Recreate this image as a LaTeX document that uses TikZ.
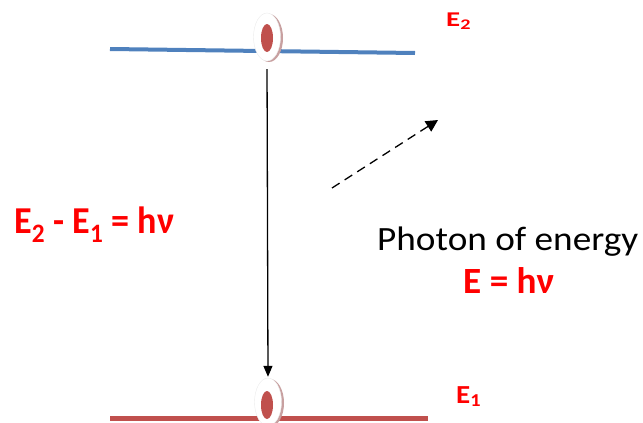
\documentclass[tikz,border=0pt]{standalone}
\usepackage{fontspec}
\usepackage{graphicx}
\setmainfont{Carlito}
\usetikzlibrary{shapes.geometric,arrows.meta}
\definecolor{lvlblue}{RGB}{79,129,189}
\definecolor{lvlred}{RGB}{192,80,77}
\definecolor{txtred}{RGB}{255,0,0}
\definecolor{elshadow}{RGB}{200,160,160}
\newcommand{\wfit}[2]{\resizebox{#1}{\height}{#2}}
\begin{document}
\begin{tikzpicture}[x=1pt,y=1pt,
  elshade/.style={ellipse, fill=elshadow, minimum width=28, minimum height=48, inner sep=0},
  elout/.style={ellipse, fill=white, draw=black!8, minimum width=27, minimum height=48, inner sep=0},
  elin/.style={ellipse, fill=lvlred, minimum width=12, minimum height=28, inner sep=0},
  lbl/.style={anchor=base west, inner sep=0, text=txtred, font=\bfseries}]
\useasboundingbox (0,0) rectangle (643,-423);
% energy levels
\draw[lvlblue, line width=4] (110,-49) coordinate (t1) -- (415,-53) coordinate (t2);
\draw[lvlred, line width=5] (110,-418) coordinate (b1) -- (428,-418) coordinate (b2);
% electrons
\node[elshade] (tsh) at (269,-38) {};
\node[elout] (tout) at (267,-37) {};
\node[elin] (tin) at (267,-38) {};
\node[elshade] (bsh) at (270,-403) {};
\node[elout] (bout) at (268,-402) {};
\node[elin] (bin) at (267,-405) {};
% transition arrow
\draw[line width=1.3, -{Triangle[length=11pt,width=9pt]}, shorten <=8pt, shorten >=1pt] (tout.south) -- (bout.north);
% photon
\coordinate (p1) at (332,-188);
\coordinate (p2) at (438,-120);
\draw[line width=1.3, dashed, dash pattern=on 9pt off 6pt, -{Triangle[length=12pt,width=12pt]}] (p1) -- (p2);
% labels
\node[lbl, font=\bfseries\fontsize{38}{44}\selectfont] (eq) at (14,-233.5) {\wfit{160pt}{E\textsubscript{2} - E\textsubscript{1} = hν}};
\node[anchor=base west, inner sep=0, font=\fontsize{34}{40}\selectfont] (ph) at (377,-250) {\wfit{261pt}{Photon of energy}};
\node[lbl, font=\bfseries\fontsize{37}{42}\selectfont] (ehv) at (463,-293) {\wfit{91pt}{E = hν}};
\node[lbl, font=\bfseries\fontsize{21}{25}\selectfont] (e2) at (446,-26) {\wfit{25pt}{E\textsubscript{2}}};
\node[lbl, font=\bfseries\fontsize{26}{30}\selectfont] (e1) at (456,-403) {\wfit{25pt}{E\textsubscript{1}}};
\end{tikzpicture}
\end{document}
